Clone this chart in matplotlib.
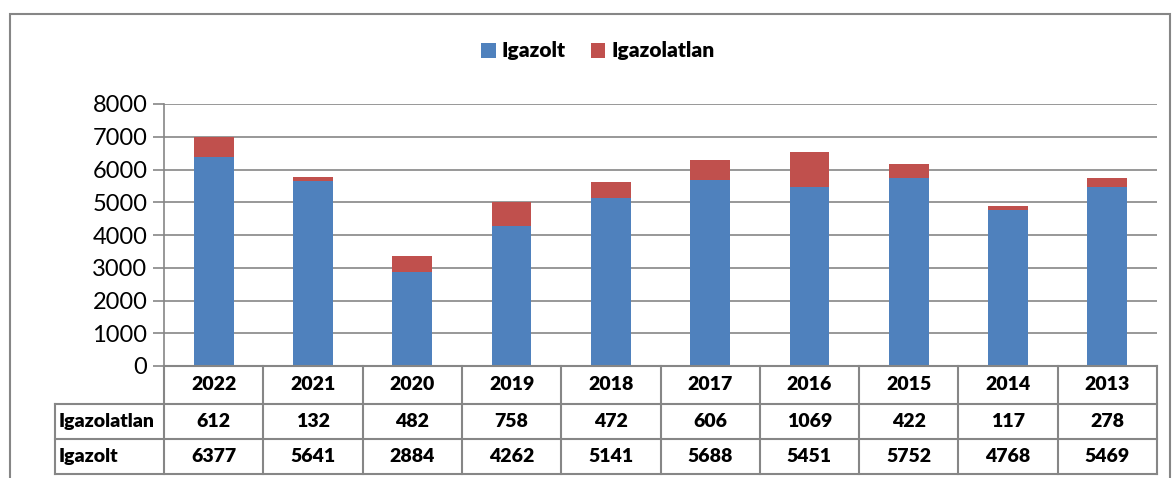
import numpy as np
import matplotlib.pyplot as plt
from matplotlib.patches import Rectangle
from matplotlib.lines import Line2D

years = ['2022', '2021', '2020', '2019', '2018', '2017', '2016', '2015', '2014', '2013']
igazolt = [6377, 5641, 2884, 4262, 5141, 5688, 5451, 5752, 4768, 5469]
igazolatlan = [612, 132, 482, 758, 472, 606, 1069, 422, 117, 278]
yticks = [0, 1000, 2000, 3000, 4000, 5000, 6000, 7000, 8000]

blue = '#4F81BD'
red = '#C0504D'
grey = '#868686'

plt.rcParams['font.family'] = ['Lato', 'DejaVu Sans']

W, H = 1174, 478
fig = plt.figure(figsize=(W / 100, H / 100), dpi=100)

# plot area in pixels
x0, x1 = 164, 1157
y_top, y_bot = 104, 366
ax = fig.add_axes([x0 / W, 1 - y_bot / H, (x1 - x0) / W, (y_bot - y_top) / H])

x = np.arange(len(years))
ax.bar(x, igazolt, width=0.4, color=blue, label='Igazolt', zorder=3)
ax.bar(x, igazolatlan, width=0.4, bottom=igazolt, color=red, label='Igazolatlan', zorder=3)

ax.set_xlim(-0.5, len(years) - 0.5)
ax.set_ylim(0, 8000)
ax.set_yticks(yticks)
ax.set_yticklabels([str(v) for v in yticks], fontsize=17)
ax.set_xticks([])
ax.yaxis.grid(True, color=grey, linewidth=1.2, zorder=0)
ax.tick_params(axis='y', length=8, width=1.2, color=grey, pad=4)
for s in ['top', 'right', 'bottom']:
    ax.spines[s].set_visible(False)
ax.spines['left'].set_color(grey)
ax.spines['left'].set_linewidth(1.2)

# data table below the axis
def fx(px):
    return px / W

def fy(py):
    return 1 - py / H

col_w = (x1 - x0) / len(years)
rows = [366, 404, 439, 474]
lab_left = 55
lines_kw = dict(color=grey, linewidth=1.5, transform=fig.transFigure)
# horizontal lines
fig.add_artist(Line2D([fx(x0), fx(x1)], [fy(rows[0])] * 2, **lines_kw))
for r in rows[1:]:
    fig.add_artist(Line2D([fx(lab_left), fx(x1)], [fy(r)] * 2, **lines_kw))
# vertical lines
for i in range(len(years) + 1):
    xp = x0 + i * col_w
    fig.add_artist(Line2D([fx(xp)] * 2, [fy(rows[0]), fy(rows[-1])], **lines_kw))
fig.add_artist(Line2D([fx(lab_left)] * 2, [fy(rows[1]), fy(rows[-1])], **lines_kw))

txt_kw = dict(fontsize=14, fontweight='heavy', va='center', transform=fig.transFigure)
for i, yr in enumerate(years):
    cx = fx(x0 + (i + 0.5) * col_w)
    fig.text(cx, fy((rows[0] + rows[1]) / 2), yr, ha='center', **txt_kw)
    fig.text(cx, fy((rows[1] + rows[2]) / 2), str(igazolatlan[i]), ha='center', **txt_kw)
    fig.text(cx, fy((rows[2] + rows[3]) / 2), str(igazolt[i]), ha='center', **txt_kw)
fig.text(fx(lab_left + 4), fy((rows[1] + rows[2]) / 2), 'Igazolatlan', ha='left', **txt_kw)
fig.text(fx(lab_left + 4), fy((rows[2] + rows[3]) / 2), 'Igazolt', ha='left', **txt_kw)

# legend
fig.legend(loc='center', bbox_to_anchor=(fx(598), fy(51)), ncol=2, frameon=False,
           prop={'size': 15, 'weight': 'heavy'}, handlelength=0.7, handleheight=0.7,
           handletextpad=0.3, columnspacing=1.2)

# outer chart frame
fig.add_artist(Rectangle((fx(10), fy(600)), fx(1170) - fx(10), fy(14) - fy(600),
                         fill=False, edgecolor=grey, linewidth=1.5, transform=fig.transFigure))

fig.savefig('out.png', dpi=100)
